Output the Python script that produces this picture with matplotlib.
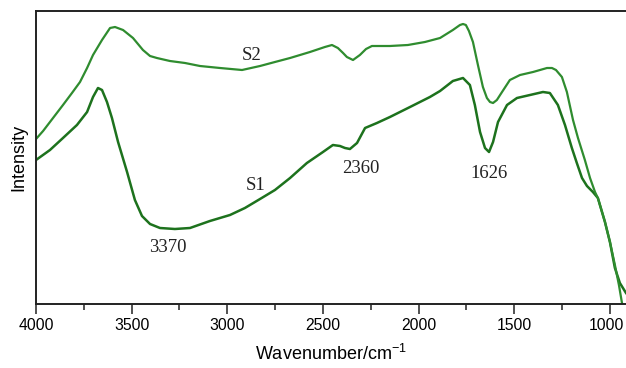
import matplotlib
matplotlib.use("Agg")
import matplotlib.pyplot as plt
import matplotlib.transforms as mtransforms

# Wavenumbers (cm^-1) and intensities (arbitrary units)
s2_wn = [4000, 3963, 3927, 3859, 3812, 3770, 3733, 3702, 3655, 3613, 3587, 3545, 3493,
         3441, 3404, 3368, 3300, 3221, 3143, 3038, 2923, 2829, 2751, 2672, 2568, 2490,
         2453, 2422, 2395, 2375, 2343, 2307, 2275, 2244, 2150, 2056, 1967, 1888, 1821,
         1784, 1768, 1753, 1737, 1716, 1690, 1664, 1643, 1627, 1611, 1591, 1564, 1523,
         1470, 1402, 1329, 1303, 1282, 1251, 1225, 1193, 1167, 1131, 1104, 1078, 1063,
         1026, 1000, 974, 953, 937]
s2_int = [165, 173, 182, 199, 211, 222, 236, 249, 264, 276, 277, 274, 266,
          254, 248, 246, 243, 241, 238, 236, 234, 238, 242, 246, 252, 257,
          259, 256, 251, 247, 244, 249, 255, 258, 258, 259, 262, 266, 274,
          279, 280, 279, 273, 262, 239, 217, 206, 202, 201, 204, 212, 224,
          229, 232, 236, 236, 234, 227, 212, 184, 166, 144, 126, 112, 106,
          82, 62, 39, 19, 1]

s1_wn = [4000, 3927, 3859, 3786, 3733, 3702, 3676, 3655, 3629, 3603, 3571, 3524, 3483,
         3446, 3404, 3352, 3274, 3195, 3091, 2986, 2908, 2829, 2751, 2672, 2584, 2500,
         2448, 2411, 2385, 2359, 2322, 2280, 2218, 2150, 2045, 1941, 1888, 1821, 1768,
         1732, 1706, 1679, 1653, 1632, 1611, 1585, 1538, 1486, 1418, 1350, 1314, 1272,
         1235, 1199, 1173, 1146, 1120, 1089, 1063, 1026, 1000, 974, 948, 916]
s1_int = [144, 154, 166, 179, 192, 207, 216, 214, 202, 186, 162, 132, 104,
          88, 80, 76, 75, 76, 83, 89, 96, 105, 114, 126, 141, 152,
          159, 158, 156, 155, 161, 176, 181, 187, 197, 207, 213, 223, 226,
          219, 199, 172, 156, 152, 162, 182, 199, 206, 209, 212, 211, 199,
          179, 156, 141, 126, 118, 112, 106, 82, 62, 36, 21, 11]

x_ticks = [4000, 3500, 3000, 2500, 2000, 1500, 1000]
minor_ticks = [3750, 3250, 2750, 2250, 1750, 1250]

annotations = [("S2", 2871, 244), ("S1", 2850, 114), ("3370", 3313, 52),
               ("2360", 2301, 131), ("1626", 1630, 126)]

plt.rcParams['font.family'] = ['Liberation Sans', 'DejaVu Sans']
plt.rcParams['mathtext.default'] = 'regular'

fig = plt.figure(figsize=(6.26, 3.68), dpi=100)
ax = fig.add_axes([36 / 626, (368 - 304) / 368, 1 - 36 / 626, (304 - 11) / 368])

ax.plot(s1_wn, s1_int, color='#1d721d', lw=1.8, solid_joinstyle='round')
ax.plot(s2_wn, s2_int, color='#2f8c2f', lw=1.6, solid_joinstyle='round')

for txt, xv, yv in annotations:
    ax.text(xv, yv, txt, family='Liberation Serif', fontsize=13.5,
            ha='center', va='baseline', color='#222222')

ax.set_xlim(4000, 916)
ax.set_ylim(0, 293)
ax.set_xticks(x_ticks)
ax.set_xticklabels([str(t) for t in x_ticks])
ax.set_xticks(minor_ticks, minor=True)
ax.set_yticks([])
ax.tick_params(axis='x', which='major', direction='out', length=7, width=1.2,
               labelsize=11.3, pad=3, color='#333333')
ax.tick_params(axis='x', which='minor', direction='out', length=4, width=1.2,
               color='#333333')

# nudge the last tick label slightly left so it stays inside the figure
last = ax.get_xticklabels()[-1]
last.set_transform(last.get_transform() +
                   mtransforms.ScaledTranslation(-3 / 100, 0, fig.dpi_scale_trans))

ax.spines['right'].set_visible(False)
for s in ['top', 'bottom', 'left']:
    ax.spines[s].set_linewidth(1.4)
    ax.spines[s].set_color('#222222')

ax.set_xlabel('Wavenumber/cm$^{-1}$', fontsize=13, labelpad=8)
ax.set_ylabel('Intensity', fontsize=13, labelpad=6)

fig.savefig('out.png', dpi=100)
